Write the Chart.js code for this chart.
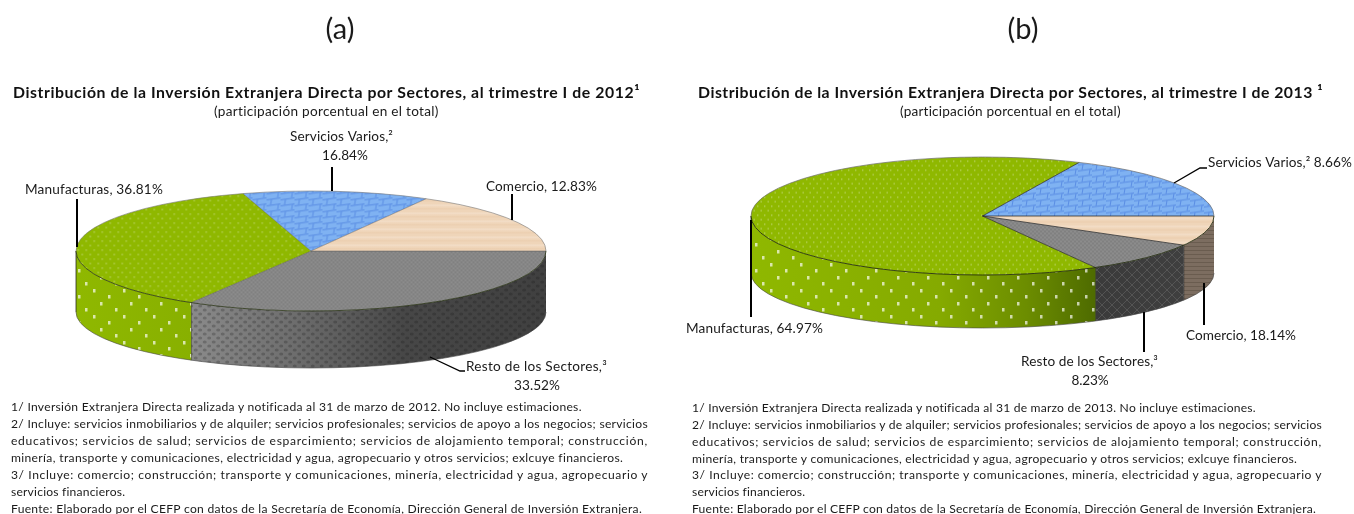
<!DOCTYPE html>
<html lang="es">
<head>
<meta charset="utf-8">
<title>Distribución de la Inversión Extranjera Directa por Sectores</title>
<script src="https://cdn.jsdelivr.net/npm/chart.js@4/dist/chart.umd.min.js"></script>
<style>
html,body{margin:0;padding:0;background:#fff;width:1354px;height:514px;overflow:hidden;font-family:Lato,sans-serif;color:#1a1a1a}
canvas{position:absolute;top:0}
.t{position:absolute;white-space:nowrap}
.pan{font-size:29px;width:80px;text-align:center;top:10px}
.ttl{font-weight:700;font-size:15.8px;top:82px;color:#111}
.sub{font-size:13.6px;top:103px}
.n{font-size:12.1px;line-height:14px}
</style>
</head>
<body>
<canvas id="ca" width="677" height="514" style="left:0"></canvas>
<canvas id="cb" width="677" height="514" style="left:677px"></canvas>
<div class="t pan" style="left:300px">(a)</div>
<div class="t pan" style="left:983px">(b)</div>
<div class="t ttl" id="ta" style="left:13px" data-w="627"></div>
<div class="t ttl" id="tb" style="left:698px" data-w="625"></div>
<div class="t sub" id="sa" style="left:214px" data-w="225"></div>
<div class="t sub" id="sb" style="left:900px" data-w="221"></div>
<div id="notes"></div>
<script>
// Slices clockwise from 3 o'clock, sized as they are drawn in the picture.
const categoriesA = ['Resto de los Sectores', 'Manufacturas', 'Servicios Varios', 'Comercio'];
const valuesA = [33.52, 36.81, 12.83, 16.84];
const categoriesB = ['Comercio', 'Resto de los Sectores', 'Manufacturas', 'Servicios Varios'];
const valuesB = [8.23, 8.66, 64.97, 18.14];
// Labels as they are printed in the picture.
const printedA = [['Resto de los Sectores,³', '33.52%'], ['Manufacturas, 36.81%'], ['Servicios Varios,²', '16.84%'], ['Comercio, 12.83%']];
const printedB = [['Comercio, 18.14%'], ['Resto de los Sectores,³', '8.23%'], ['Manufacturas, 64.97%'], ['Servicios Varios,² 8.66%']];
const titleA = 'Distribución de la Inversión Extranjera Directa por Sectores, al trimestre I de 2012¹';
const titleB = 'Distribución de la Inversión Extranjera Directa por Sectores, al trimestre I de 2013 ¹';
const subtitle = '(participación porcentual en el total)';
const notesA = [
 '1/ Inversión Extranjera Directa realizada y notificada al 31 de marzo de 2012. No incluye estimaciones.',
 '2/ Incluye: servicios inmobiliarios y de alquiler; servicios profesionales; servicios de apoyo a los negocios; servicios',
 'educativos; servicios de salud; servicios de esparcimiento; servicios de alojamiento temporal; construcción,',
 'minería, transporte y comunicaciones, electricidad y agua, agropecuario y otros servicios; exlcuye financieros.',
 '3/ Incluye: comercio; construcción; transporte y comunicaciones, minería, electricidad y agua, agropecuario y',
 'servicios financieros.',
 'Fuente: Elaborado por el CEFP con datos de la Secretaría de Economía, Dirección General de Inversión Extranjera.'];
const notesB = notesA.map(s => s.replace('marzo de 2012', 'marzo de 2013'));

// ---- layout and styling ----
function tile(w, h, draw) {
  const c = document.createElement('canvas'); c.width = w; c.height = h;
  const g = c.getContext('2d'); draw(g, w, h);
  return c;
}
function pattern(t, k) {
  const p = document.createElement('canvas').getContext('2d').createPattern(t, 'repeat');
  if (k) p.setTransform(new DOMMatrix().scale(1, 1 / k));
  return p;
}
const T = {
  green: (dx) => tile(dx, 9, (g, w) => { g.fillStyle = '#8FB800'; g.fillRect(0, 0, w, 9);
    g.fillStyle = 'rgba(255,255,255,.36)'; g.fillRect(1, 1, 1.4, 1.4); g.fillRect(1 + w / 2, 5.5, 1.4, 1.4); }),
  blue: () => tile(14, 12, (g) => { g.fillStyle = '#7FB2F2'; g.fillRect(0, 0, 14, 12);
    g.strokeStyle = '#5A8DE4'; g.lineWidth = 1; g.beginPath();
    g.moveTo(0, 2.5); g.lineTo(14, .5); g.moveTo(0, 8.5); g.lineTo(14, 6.5);
    g.moveTo(5, 2); g.lineTo(4, 7.5); g.moveTo(12, 7); g.lineTo(11, 12.5); g.stroke(); }),
  peach: () => tile(4, 8, (g) => { g.fillStyle = '#EFD5B9'; g.fillRect(0, 0, 4, 8);
    g.fillStyle = '#F2DCC5'; g.fillRect(0, 3, 4, 2); g.fillStyle = '#EBCDAE'; g.fillRect(0, 7, 4, 1); }),
  gray: () => tile(4, 4, (g) => { g.fillStyle = '#8C8C8C'; g.fillRect(0, 0, 4, 4);
    g.fillStyle = '#808080'; g.fillRect(0, 0, 2, 2); g.fillRect(2, 2, 2, 2); }),
  dots: () => tile(30, 26, (g) => { g.fillStyle = 'rgba(255,255,255,.68)';
    [[3, 3], [18, 9], [10, 16], [25, 22]].forEach(d => g.fillRect(d[0], d[1], 2.5, 3.5)); }),
  hex: () => tile(9, 8, (g) => { g.fillStyle = 'rgba(20,20,20,.24)';
    g.beginPath(); g.ellipse(2.2, 2, 2, 1.6, 0, 0, 7); g.ellipse(6.7, 6, 2, 1.6, 0, 0, 7); g.fill(); }),
  lattice: () => tile(10, 10, (g) => { g.strokeStyle = 'rgba(120,120,120,.4)'; g.lineWidth = 1; g.beginPath();
    g.moveTo(0, 0); g.lineTo(10, 10); g.moveTo(10, 0); g.lineTo(0, 10); g.stroke(); }),
  brown: () => tile(4, 4, (g) => { g.fillStyle = 'rgba(40,30,20,.22)'; g.fillRect(0, 2, 4, 1); })
};

const chartA = {
  id: 'ca', x0: 0, R: 235, cx: 311, cy: 251, ry: 60, cy2: 312, ry2: 56, dot: 8,
  cats: categoriesA, vals: valuesA, printed: printedA,
  topKey: ['gray', 'green', 'blue', 'peach'],
  edge: 'rgba(60,60,60,.4)', edgeFront: 'rgba(40,50,20,.8)', rim: 'rgba(120,120,120,.6)',
  walls: [
    { stops: [[0, '#404040'], [.4, '#474747'], [.7, '#6C6C6C'], [1, '#8A8A8A']], from: 546, to: 192, over: 'hex' },
    { stops: [[0, '#8FB800'], [1, '#88B000']], from: 76, to: 192, over: 'dots' }, null, null],
  lab: [
    { line: [[430, 357], [460, 371], [465, 371]], text: [[466, 367, 'left', 141], [537, 386, 'center', 46]] },
    { line: [[77, 199], [77, 247]], text: [[25, 190, 'left', 138]] },
    { line: [[332, 167], [332, 191]], text: [[341.5, 137, 'center', 103], [345, 156, 'center', 46]] },
    { line: [[512, 194], [512, 220]], text: [[486, 187, 'left', 111]] }]
};
const chartB = {
  id: 'cb', x0: 677, R: 231.5, cx: 982.5, cy: 216, ry: 59, cy2: 273, ry2: 55, dot: 7,
  cats: categoriesB, vals: valuesB, printed: printedB,
  topKey: ['peach', 'gray', 'green', 'blue'],
  edge: 'rgba(40,40,40,.75)', edgeFront: 'rgba(30,40,10,.85)', rim: 'rgba(110,110,110,.7)',
  walls: [
    { stops: [[0, '#7C6D60'], [1, '#7C6D60']], from: 1183, to: 1214, over: 'brown' },
    { stops: [[0, '#3A3A3A'], [1, '#3F3F3F']], from: 1095, to: 1183, over: 'lattice' },
    { stops: [[0, '#8FB800'], [.55, '#85AA00'], [.8, '#6C8D00'], [1, '#4E6B00']], from: 751, to: 1095, over: 'dots' }, null],
  lab: [
    { line: [[1204, 283], [1204, 325]], text: [[1186, 336, 'left', 110]] },
    { line: [[1144, 312], [1144, 352]], text: [[1021, 362, 'left', 137], [1090, 381, 'center', 37]] },
    { line: [[751, 220], [751, 317]], text: [[686, 329, 'left', 137]] },
    { line: [[1174, 183], [1200, 168], [1207, 168]], text: [[1208, 163, 'left', 144]] }]
};

function makeChart(cf) {
  const k = cf.ry / cf.R;
  const over = {};
  ['dots', 'hex', 'lattice', 'brown'].forEach(n => { over[n] = pattern(T[n](), 0); });
  const fills = cf.topKey.map(n => pattern(n === 'green' ? T.green(cf.dot) : T[n](), k));
  const plugin = {
    id: 'pie3d',
    beforeDatasetsDraw(chart) {
      const ctx = chart.ctx, arcs = chart.getDatasetMeta(0).data, off = cf.x0;
      const cx = cf.cx - off, rx = cf.R;
      arcs.forEach((arc, i) => {
        const w = cf.walls[i]; if (!w) return;
        const a = Math.max(arc.startAngle, 0), b = Math.min(arc.endAngle, Math.PI);
        if (b <= a) return;
        const path = () => { ctx.beginPath();
          ctx.ellipse(cx, cf.cy2, rx, cf.ry2, 0, a, b);
          ctx.ellipse(cx, cf.cy, rx, cf.ry, 0, b, a, true); ctx.closePath(); };
        const g = ctx.createLinearGradient(w.from - off, 0, w.to - off, 0);
        w.stops.forEach(s => g.addColorStop(s[0], s[1]));
        path(); ctx.fillStyle = g; ctx.fill();
        ctx.fillStyle = over[w.over]; ctx.fill();
        ctx.strokeStyle = 'rgba(30,30,30,.75)'; ctx.lineWidth = 1;
        ctx.beginPath();
        ctx.moveTo(cx + rx * Math.cos(b), cf.cy + cf.ry * Math.sin(b));
        ctx.lineTo(cx + rx * Math.cos(b), cf.cy2 + cf.ry2 * Math.sin(b)); ctx.stroke();
      });
      ctx.strokeStyle = 'rgba(70,70,70,.6)'; ctx.lineWidth = 1;
      ctx.beginPath(); ctx.ellipse(cx, cf.cy2, rx, cf.ry2, 0, 0, Math.PI); ctx.stroke();
      const a0 = arcs[0];
      ctx.save();
      ctx.translate(cx, cf.cy); ctx.scale(1, k); ctx.translate(-a0.x, -a0.y);
    },
    afterDatasetsDraw(chart) {
      const ctx = chart.ctx, arcs = chart.getDatasetMeta(0).data, off = cf.x0;
      ctx.restore();
      const cx = cf.cx - off, rx = cf.R;
      ctx.lineWidth = 1; ctx.strokeStyle = cf.edge;
      arcs.forEach(arc => { ctx.beginPath(); ctx.moveTo(cx, cf.cy);
        ctx.lineTo(cx + rx * Math.cos(arc.startAngle), cf.cy + cf.ry * Math.sin(arc.startAngle)); ctx.stroke(); });
      ctx.strokeStyle = cf.rim;
      ctx.beginPath(); ctx.ellipse(cx, cf.cy, rx, cf.ry, 0, Math.PI, 2 * Math.PI); ctx.stroke();
      ctx.strokeStyle = cf.edgeFront;
      ctx.beginPath(); ctx.ellipse(cx, cf.cy, rx, cf.ry, 0, 0, Math.PI); ctx.stroke();
      // leader lines and printed labels, each fitted to its width in the picture
      cf.lab.forEach((l, i) => {
        ctx.strokeStyle = '#000'; ctx.lineWidth = l.line.length > 2 ? 1.3 : 2;
        ctx.beginPath();
        l.line.forEach((p, j) => j ? ctx.lineTo(p[0] - off, p[1]) : ctx.moveTo(p[0] - off, p[1]));
        ctx.stroke();
        ctx.fillStyle = '#1a1a1a'; ctx.font = '13.6px Lato'; ctx.textBaseline = 'middle';
        l.text.forEach((t, j) => {
          const s = cf.printed[i][j];
          ctx.letterSpacing = '0px';
          const nat = ctx.measureText(s).width;
          ctx.letterSpacing = ((t[3] - nat) / s.length).toFixed(3) + 'px';
          ctx.textAlign = t[2];
          ctx.fillText(s, t[0] - off, t[1]);
        });
        ctx.letterSpacing = '0px';
      });
    }
  };
  const pad = (514 - 2 * cf.R) / 2;
  return new Chart(document.getElementById(cf.id), {
    type: 'pie',
    data: { labels: cf.cats, datasets: [{ data: cf.vals, backgroundColor: fills, borderWidth: 0, clip: false }] },
    options: {
      responsive: false, animation: false, rotation: 90, events: [],
      layout: { padding: { top: pad, bottom: pad } },
      plugins: { legend: { display: false }, tooltip: { enabled: false } }
    },
    plugins: [plugin]
  });
}
document.getElementById('ta').textContent = titleA;
document.getElementById('tb').textContent = titleB;
document.getElementById('sa').textContent = subtitle;
document.getElementById('sb').textContent = subtitle;
const noteHost = document.getElementById('notes');
function addNotes(list, left, widths, tops) {
  list.forEach((s, i) => {
    const d = document.createElement('div');
    d.className = 'n t';
    d.style.cssText = 'left:' + left + 'px;top:' + tops[i] + 'px;';
    d.dataset.w = widths[i];
    d.textContent = s;
    noteHost.appendChild(d);
  });
}
addNotes(notesA, 11, [571, 637, 637, 612, 637, 114, 631], [400, 417, 434, 451, 468, 485, 502]);
addNotes(notesB, 692, [564, 630, 630, 605, 630, 113, 624], [401, 418, 435, 452, 468, 485, 502]);
function fitAll() {
  document.querySelectorAll('[data-w]').forEach(el => {
    const nat = el.getBoundingClientRect().width;
    el.style.letterSpacing = ((+el.dataset.w - nat) / el.textContent.length).toFixed(3) + 'px';
  });
}
Promise.all([document.fonts.load('13px Lato'), document.fonts.load('700 15px Lato')]).finally(() => {
  fitAll(); makeChart(chartA); makeChart(chartB);
});
</script>
</body>
</html>
